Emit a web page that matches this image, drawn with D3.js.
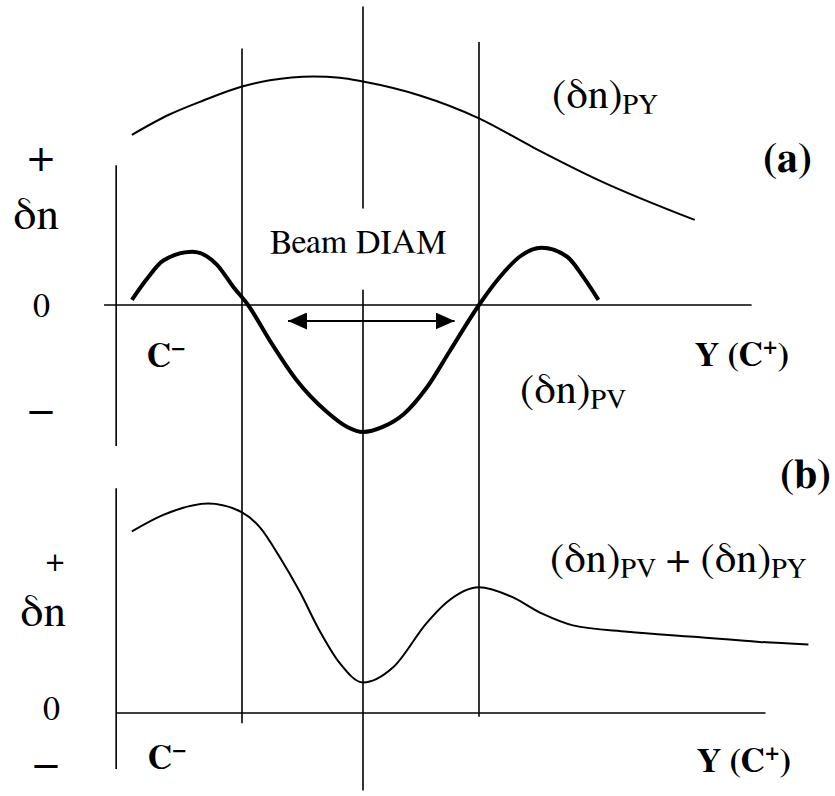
<!DOCTYPE html>
<html>
<head>
<meta charset="utf-8">
<script src="https://cdn.jsdelivr.net/npm/d3@7"></script>
<style>
  body { margin: 0; background: #fff; }
</style>
</head>
<body>
<svg id="chart" width="835" height="796"></svg>
<script>
// positions across the beam, in beam radii (edges at -1 and +1)
var pyX = [-1.91, -1.6, -1.32, -1, -0.77, -0.41, -0.19, 0, 0.49, 1, 1.47, 2.04, 2.86]
var pyY = [1.34, 1.5, 1.61, 1.72, 1.77, 1.8, 1.79, 1.76, 1.65, 1.47, 1.24, 0.98, 0.67]

var pvX = [-1.91, -1.79, -1.65, -1.41, -1.21, -1.07, -0.95, -0.77, -0.55, -0.3, -0.13, 0, 0.17, 0.35, 0.55, 0.75, 1, 1.18, 1.35, 1.54, 1.76, 1.9, 2.03]
var pvY = [0.04, 0.2, 0.35, 0.42, 0.32, 0.14, 0, -0.28, -0.59, -0.84, -0.96, -1, -0.96, -0.86, -0.65, -0.36, 0, 0.22, 0.38, 0.45, 0.38, 0.22, 0.04]

var sumX = [-1.91, -1.65, -1.28, -1, -0.85, -0.69, -0.52, -0.36, -0.19, 0, 0.26, 0.55, 0.72, 1, 1.27, 1.55, 1.81, 2.28, 2.85, 3.42, 3.84]
var sumY = [1.43, 1.56, 1.65, 1.58, 1.46, 1.23, 0.95, 0.65, 0.39, 0.24, 0.36, 0.71, 0.87, 0.99, 0.92, 0.78, 0.69, 0.64, 0.6, 0.56, 0.54]

// vertical guides: beam edges and centre
var guideX = [-1, 0, 1]
var guideTopA = [2.02, 2.35, 2.07]
var guideBottomB = [-0.08, -0.61, -0.03]
var centreGapA = [0.76, 0.12]

// arrow for the beam diameter
var arrowX = [-0.62, 0.79]
var arrowY = -0.126

// axis extents
var axisA = { xFrom: -2.14, xTo: 3.35, yFrom: 1.1, yTo: -1.11 }
var axisB = { xFrom: -2.04, xTo: 3.47, yFrom: 1.77, yTo: -0.44 }
var axisLeftX = -2.04

var SERIF = "FreeSerif, 'Liberation Serif', Tinos, serif"

var svg = d3.select("#chart")
svg.append("rect").attr("width", 835).attr("height", 796).attr("fill", "#fff")

var x = d3.scaleLinear().domain([-1, 0, 1]).range([242, 363, 479])
var yA = d3.scaleLinear().domain([0, 1]).range([305, 178])
var yB = d3.scaleLinear().domain([0, 1]).range([713, 586])

var defs = svg.append("defs")
defs.append("marker")
    .attr("id", "head")
    .attr("viewBox", "0 0 19 17")
    .attr("refX", 19).attr("refY", 8.5)
    .attr("markerWidth", 19).attr("markerHeight", 17)
    .attr("markerUnits", "userSpaceOnUse")
    .attr("orient", "auto-start-reverse")
    .append("path").attr("d", "M0,0 L19,8.5 L0,17 Z").attr("fill", "#000")

function seg(x1, y1, x2, y2, w) {
    return svg.append("line")
        .attr("x1", x1).attr("y1", y1).attr("x2", x2).attr("y2", y2)
        .attr("stroke", "#000").attr("stroke-width", w || 1.6)
}

// panel (a) axes
seg(x(axisA.xFrom), yA(0), x(axisA.xTo), yA(0))
seg(x(axisLeftX), yA(axisA.yFrom), x(axisLeftX), yA(axisA.yTo))
// panel (b) axes
seg(x(axisB.xFrom), yB(0), x(axisB.xTo), yB(0))
seg(x(axisLeftX), yB(axisB.yFrom), x(axisLeftX), yB(axisB.yTo))

// guides
guideX.forEach(function (g, i) {
    if (g === 0) {
        seg(x(g), yA(guideTopA[i]), x(g), yA(centreGapA[0]))
        seg(x(g), yA(centreGapA[1]), x(g), yB(guideBottomB[i]))
    } else {
        seg(x(g), yA(guideTopA[i]), x(g), yB(guideBottomB[i]))
    }
})

function curve(xs, ys, yScale, w) {
    var pts = xs.map(function (v, i) { return [v, ys[i]] })
    var line = d3.line()
        .x(function (d) { return x(d[0]) })
        .y(function (d) { return yScale(d[1]) })
        .curve(d3.curveMonotoneX)
    svg.append("path").attr("d", line(pts))
        .attr("fill", "none").attr("stroke", "#000")
        .attr("stroke-width", w).attr("stroke-linecap", "butt")
}

curve(pyX, pyY, yA, 2)
curve(pvX, pvY, yA, 4)
curve(sumX, sumY, yB, 2)

// beam diameter arrow
seg(x(arrowX[0]), yA(arrowY), x(arrowX[1]), yA(arrowY), 2)
    .attr("marker-start", "url(#head)")
    .attr("marker-end", "url(#head)")

// labels
function label(tx, ty, size, bold, parts, anchor) {
    var t = svg.append("text").attr("x", tx).attr("y", ty)
        .attr("font-family", SERIF)
        .attr("font-size", size)
    if (anchor) t.attr("text-anchor", anchor)
    if (bold) t.attr("font-weight", "bold")
    if (parts.length === 1) {
        t.text(parts[0][0])
        return t
    }
    parts.forEach(function (p) {
        var s = t.append("tspan").text(p[0])
        if (p[1]) s.attr("font-size", p[1])
        if (p[2]) s.attr("dy", p[2])
    })
    return t
}

label(41, 171, 46, false, [["+"]], "middle")
label(13, 229, 45, false, [["δn"]])
label(33, 317, 34, false, [["0"]])
label(41, 424, 46, false, [["−"]], "middle")
label(147, 367, 34, true, [["C"], ["−", 22, -12]])
label(695, 366, 34, true, [["Y (C"], ["+", 22, -12], [")", null, 12]])
label(520, 403, 42, false, [["(δn)"], ["PV", 28, 5]])
label(552, 108, 42, false, [["(δn)"], ["PY", 28, 5]])
label(270, 253, 34, false, [["Beam DIAM"]])
label(763, 172, 42, true, [["(a)"]])
label(780, 488, 42, true, [["(b)"]])

label(55, 571, 32, false, [["+"]], "middle")
label(20, 626, 45, false, [["δn"]])
label(43, 720, 34, false, [["0"]])
label(46, 778, 46, false, [["−"]], "middle")
label(148, 769, 34, true, [["C"], ["−", 22, -12]])
label(697, 772, 34, true, [["Y (C"], ["+", 22, -12], [")", null, 12]])
label(550, 572, 42, false, [["(δn)"], ["PV", 28, 5], [" + ", 42, -5], ["(δn)"], ["PY", 28, 5]])
</script>
</body>
</html>
